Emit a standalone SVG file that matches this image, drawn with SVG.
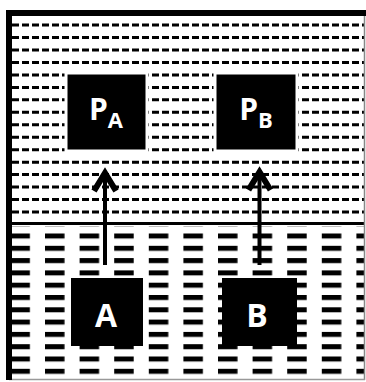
<svg xmlns="http://www.w3.org/2000/svg" width="366" height="382" viewBox="0 0 366 382">
  <style>
    .fine { stroke: #000; stroke-width: 3; stroke-dasharray: 7 3; }
    .box { fill: #000; }
    .label { fill: #fff; font-family: "Open Sans", "Liberation Sans", sans-serif; font-weight: bold; text-anchor: middle; }
    .shaft { stroke: #000; stroke-width: 4; fill: none; }
    .head { stroke: #000; stroke-width: 6; fill: none; stroke-linejoin: miter; stroke-linecap: butt; }
  </style>
  <defs>
    <pattern id="coarse" patternUnits="userSpaceOnUse" x="10.4" y="233.5" width="34.6" height="12.3">
      <rect x="0" y="0" width="19.5" height="5" fill="#000"/>
    </pattern>
  </defs>
  <rect width="366" height="382" fill="#fff"/>

  <!-- upper layer: fine dashed rows -->
  <g id="upper-layer">
    <line class="fine" x1="12" y1="25" x2="364" y2="25"/>
    <line class="fine" x1="12" y1="37.5" x2="364" y2="37.5"/>
    <line class="fine" x1="12" y1="50" x2="364" y2="50"/>
    <line class="fine" x1="12" y1="62.4" x2="364" y2="62.4"/>
    <line class="fine" x1="12" y1="74.9" x2="364" y2="74.9"/>
    <line class="fine" x1="12" y1="87.4" x2="364" y2="87.4"/>
    <line class="fine" x1="12" y1="99.8" x2="364" y2="99.8"/>
    <line class="fine" x1="12" y1="112.3" x2="364" y2="112.3"/>
    <line class="fine" x1="12" y1="124.8" x2="364" y2="124.8"/>
    <line class="fine" x1="12" y1="137.2" x2="364" y2="137.2"/>
    <line class="fine" x1="12" y1="149.7" x2="364" y2="149.7"/>
    <line class="fine" x1="12" y1="162.2" x2="364" y2="162.2"/>
    <line class="fine" x1="12" y1="174.6" x2="364" y2="174.6"/>
    <line class="fine" x1="12" y1="187" x2="364" y2="187"/>
    <line class="fine" x1="12" y1="199.6" x2="364" y2="199.6"/>
    <line class="fine" x1="12" y1="212" x2="364" y2="212"/>
  </g>

  <!-- lower layer: coarse dashed grid -->
  <g id="lower-layer">
    <rect x="12" y="226" width="352" height="153" fill="url(#coarse)"/>
  </g>

  <!-- interface line and outer frame -->
  <g id="frame">
    <line x1="9" y1="223.5" x2="364" y2="223.5" stroke="#000" stroke-width="3"/>
    <line x1="364.5" y1="13" x2="364.5" y2="380" stroke="#888" stroke-width="1.5"/>
    <line x1="9" y1="379.5" x2="365" y2="379.5" stroke="#999" stroke-width="1.5"/>
    <line x1="6" y1="13" x2="366" y2="13" stroke="#000" stroke-width="6"/>
    <line x1="9" y1="10" x2="9" y2="380" stroke="#000" stroke-width="6"/>
  </g>

  <!-- connectors -->
  <g id="connectors">
    <line class="shaft" x1="105" y1="265" x2="105" y2="173"/>
    <polyline class="head" points="94,191 105,173 116,191"/>
    <line class="shaft" x1="259.5" y1="265" x2="259.5" y2="172"/>
    <polyline class="head" points="248.5,190 259.5,172 270.5,190"/>
  </g>

  <g id="node-pa">
    <rect class="box" x="66" y="73" width="81" height="78" stroke="#fff" stroke-width="3"/>
    <text class="label" x="106" y="120" font-size="30">P<tspan font-size="22" dy="8">A</tspan></text>
  </g>
  <g id="node-pb">
    <rect class="box" x="215" y="73" width="82" height="78" stroke="#fff" stroke-width="3"/>
    <text class="label" x="256" y="120" font-size="30">P<tspan font-size="22" dy="8">B</tspan></text>
  </g>
  <g id="node-a">
    <rect class="box" x="71" y="278" width="72" height="68"/>
    <text class="label" x="106" y="327" font-size="32">A</text>
  </g>
  <g id="node-b">
    <rect class="box" x="222" y="278" width="75" height="68"/>
    <text class="label" x="257" y="327" font-size="32">B</text>
  </g>
</svg>
